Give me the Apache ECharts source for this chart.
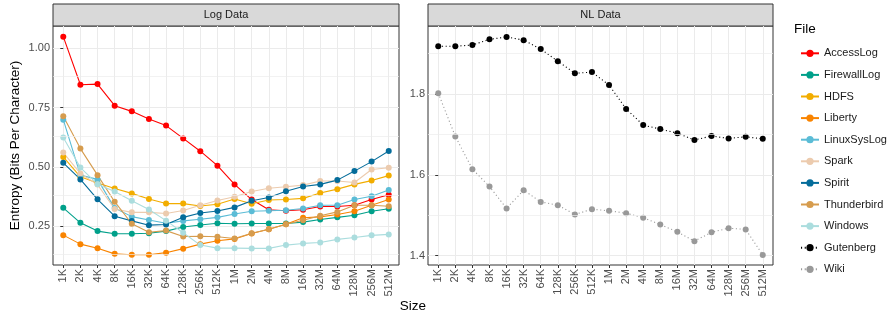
<!DOCTYPE html>
<html><head><meta charset="utf-8">
<script src="https://cdn.jsdelivr.net/npm/echarts@6/dist/echarts.min.js"></script>
<style>html,body{margin:0;padding:0;background:#fff}#c{width:887px;height:321px}</style>
</head><body><div id="c"></div>
<script>
const sizes = ['1K','2K','4K','8K','16K','32K','64K','128K','256K','512K','1M','2M','4M','8M','16M','32M','64M','128M','256M','512M'];

const accessLog   = [1.049,0.846,0.849,0.758,0.734,0.702,0.674,0.620,0.566,0.505,0.426,0.362,0.319,0.315,0.319,0.333,0.333,0.338,0.362,0.382];
const firewallLog = [0.327,0.264,0.229,0.218,0.218,0.220,0.229,0.246,0.255,0.262,0.260,0.261,0.261,0.261,0.267,0.278,0.287,0.296,0.313,0.323];
const hdfs        = [0.542,0.458,0.432,0.409,0.388,0.364,0.345,0.345,0.335,0.342,0.364,0.344,0.360,0.362,0.367,0.390,0.406,0.426,0.442,0.463];
const liberty     = [0.212,0.174,0.157,0.133,0.129,0.129,0.138,0.155,0.174,0.188,0.196,0.219,0.237,0.258,0.285,0.289,0.299,0.313,0.338,0.362];
const linuxSysLog = [0.699,0.465,0.447,0.326,0.290,0.276,0.262,0.272,0.279,0.287,0.301,0.313,0.315,0.317,0.324,0.338,0.338,0.362,0.376,0.402];
const spark       = [0.560,0.472,0.425,0.322,0.308,0.308,0.303,0.316,0.338,0.358,0.374,0.396,0.410,0.416,0.423,0.440,0.440,0.434,0.489,0.496];
const spirit      = [0.517,0.447,0.363,0.292,0.272,0.254,0.257,0.287,0.305,0.314,0.329,0.357,0.371,0.397,0.417,0.426,0.444,0.482,0.522,0.567];
const thunderbird = [0.713,0.577,0.465,0.353,0.260,0.224,0.231,0.206,0.207,0.205,0.198,0.220,0.237,0.258,0.275,0.294,0.310,0.338,0.338,0.334];
const windows     = [0.624,0.497,0.427,0.396,0.357,0.320,0.273,0.222,0.170,0.157,0.157,0.156,0.156,0.170,0.177,0.181,0.194,0.202,0.211,0.215];

const gutenberg = [1.918,1.918,1.921,1.935,1.941,1.933,1.911,1.881,1.851,1.854,1.822,1.763,1.723,1.713,1.703,1.686,1.696,1.690,1.694,1.689];
const wiki      = [1.802,1.695,1.614,1.571,1.517,1.562,1.533,1.525,1.502,1.515,1.511,1.505,1.494,1.477,1.459,1.436,1.458,1.468,1.465,1.402];

const logMajorTicks = [0.25, 0.50, 0.75, 1.00];
const logMinorTicks = [0.125, 0.375, 0.625, 0.875];
const nlMajorTicks = [1.4, 1.6, 1.8];
const nlMinorTicks = [1.5, 1.7, 1.9];

const logSeries = [
  ['AccessLog', accessLog, '#FF0000'],
  ['FirewallLog', firewallLog, '#00A08A'],
  ['HDFS', hdfs, '#F2AD00'],
  ['Liberty', liberty, '#F98400'],
  ['LinuxSysLog', linuxSysLog, '#5BBCD6'],
  ['Spark', spark, '#ECCBAE'],
  ['Spirit', spirit, '#046C9A'],
  ['Thunderbird', thunderbird, '#D69C4E'],
  ['Windows', windows, '#ABDDDE']
];
const nlSeries = [
  ['Gutenberg', gutenberg, '#000000'],
  ['Wiki', wiki, '#999999']
];

const FONT = '"Liberation Sans", Arial, Helvetica, sans-serif';
const idx = sizes.map((s, i) => i);
const GRID_C = '#EBEBEB';

function minorGridSeries(ai, minor, anyData) {
  return {
    name: 'minor' + ai, type: 'line', xAxisIndex: ai, yAxisIndex: ai, z: 1, silent: true,
    data: anyData.map((v, i) => [i, v]), symbol: 'none', showSymbol: false,
    lineStyle: { color: '#FFFFFF', width: 0 }, emphasis: { disabled: true }, animation: false,
    markLine: { symbol: 'none', silent: true, animation: false, label: { show: false },
      lineStyle: { color: '#EDEDED', width: 0.7, type: 'solid' },
      data: minor.map(v => ({ yAxis: v })) }
  };
}

function xAxisDef(gi) {
  return {
    type: 'value', gridIndex: gi, min: -0.6, max: 19.6,
    axisLine: { show: false },
    splitLine: { show: true, lineStyle: { color: GRID_C, width: 1 } },
    axisTick: { show: true, customValues: idx, length: 3, lineStyle: { color: '#333333', width: 1 } },
    axisLabel: { show: true, customValues: idx, rotate: 90, margin: 4, fontSize: 11, color: '#4D4D4D', fontFamily: FONT,
      formatter: v => sizes[Math.round(v)] }
  };
}
function yAxisDef(gi, min, max, ticks, dec) {
  return {
    type: 'value', gridIndex: gi, min: min, max: max,
    axisLine: { show: false },
    splitLine: { show: true, lineStyle: { color: GRID_C, width: 1 } },
    axisTick: { show: true, customValues: ticks, length: 3, lineStyle: { color: '#333333', width: 1 } },
    axisLabel: { show: true, customValues: ticks, margin: 3, fontSize: 11, color: '#4D4D4D', fontFamily: FONT,
      formatter: v => Number(v).toFixed(dec) }
  };
}

function mkSeries(def, ai, dotted) {
  return {
    name: def[0], type: 'line', xAxisIndex: ai, yAxisIndex: ai, z: 3,
    data: def[1].map((v, i) => [i, v]),
    symbol: 'circle', symbolSize: 6, showSymbol: true,
    lineStyle: { color: def[2], width: 1.1, type: dotted ? [1.1, 2.6] : 'solid' },
    itemStyle: { color: def[2] },
    emphasis: { disabled: true }, animation: false
  };
}

const series = [minorGridSeries(0, logMinorTicks, accessLog), minorGridSeries(1, nlMinorTicks, gutenberg)];
logSeries.forEach(d => series.push(mkSeries(d, 0, false)));
nlSeries.forEach(d => series.push(mkSeries(d, 1, true)));

const chart = echarts.init(document.getElementById('c'), null, { renderer: 'canvas' });
chart.setOption({
  animation: false,
  textStyle: { fontFamily: FONT },
  grid: [
    { left: 53, top: 26, width: 346, height: 239, show: true, backgroundColor: '#FFFFFF', borderColor: '#333333', borderWidth: 1 },
    { left: 428, top: 26, width: 345, height: 239, show: true, backgroundColor: '#FFFFFF', borderColor: '#333333', borderWidth: 1 }
  ],
  xAxis: [xAxisDef(0), xAxisDef(1)],
  yAxis: [yAxisDef(0, 0.086, 1.094, logMajorTicks, 2), yAxisDef(1, 1.377, 1.968, nlMajorTicks, 1)],
  legend: {
    orient: 'vertical', left: 795, top: 41.3, itemWidth: 18, itemHeight: 9, itemGap: 7.6,
    data: logSeries.map(d => d[0]).concat(nlSeries.map(d => d[0])),
    textStyle: { fontSize: 11, color: '#1A1A1A', lineHeight: 14, fontFamily: FONT },
    selectedMode: false
  },
  graphic: [
    { type: 'rect', shape: { x: 53, y: 4, width: 346, height: 22 }, style: { fill: '#D9D9D9', stroke: '#333333', lineWidth: 1 } },
    { type: 'rect', shape: { x: 428, y: 4, width: 345, height: 22 }, style: { fill: '#D9D9D9', stroke: '#333333', lineWidth: 1 } },
    { type: 'text', x: 226, y: 15, style: { text: 'Log Data', fill: '#1A1A1A', fontSize: 11, fontFamily: FONT, align: 'center', verticalAlign: 'middle' } },
    { type: 'text', x: 600.5, y: 15, style: { text: 'NL Data', fill: '#1A1A1A', fontSize: 11, fontFamily: FONT, align: 'center', verticalAlign: 'middle' } },
    { type: 'text', x: 15, y: 145.5, rotation: Math.PI / 2, style: { text: 'Entropy (Bits Per Character)', fill: '#000000', fontSize: 13.5, fontFamily: FONT, align: 'center', verticalAlign: 'middle' } },
    { type: 'text', x: 413, y: 306, style: { text: 'Size', fill: '#000000', fontSize: 13.5, fontFamily: FONT, align: 'center', verticalAlign: 'middle' } },
    { type: 'text', x: 794, y: 29, style: { text: 'File', fill: '#000000', fontSize: 13.5, fontFamily: FONT, align: 'left', verticalAlign: 'middle' } }
  ],
  series: series
});
</script>
</body></html>
